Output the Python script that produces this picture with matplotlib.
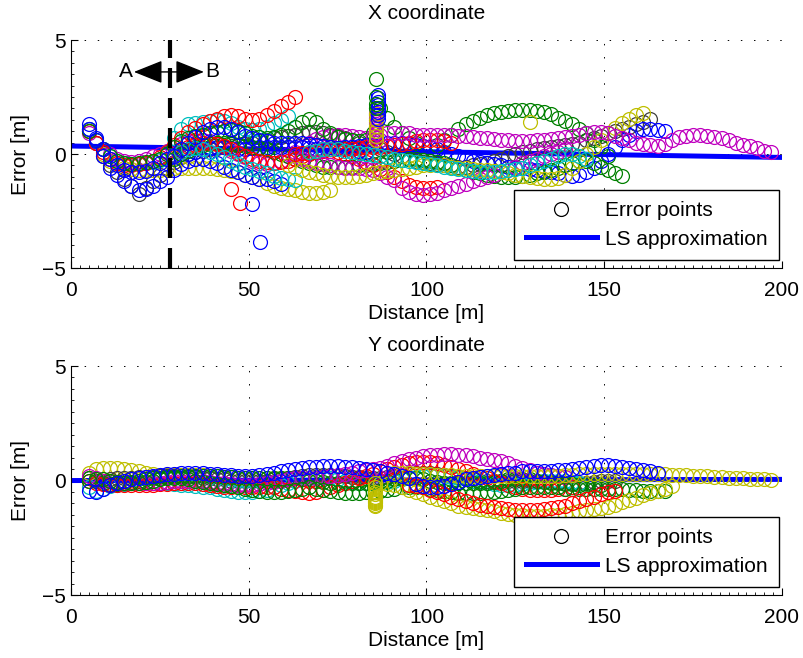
import numpy as np
import matplotlib
matplotlib.use("Agg")
import matplotlib.pyplot as plt
from matplotlib.lines import Line2D
from matplotlib.ticker import MultipleLocator

plt.rcParams['font.family'] = ['Liberation Sans', 'DejaVu Sans']
plt.rcParams['font.size'] = 15

# couleurs matlab (ancienne palette)
C = {'b': (0, 0, 1), 'g': (0, 0.5, 0), 'r': (1, 0, 0), 'c': (0, 0.75, 0.75),
     'm': (0.75, 0, 0.75), 'y': (0.75, 0.75, 0), 'k': (0.25, 0.25, 0.25)}

STEP = 2.0  # pas en distance entre deux points [m]

# ---------------- X coordinate : erreurs [m] ----------------
x_blue1_start = 5
x_blue1 = [1.3, 0.6, -0.1, -0.6, -0.9, -1.2, -1.4, -1.6, -1.55, -1.4, -1.2, -1.0, -0.7, -0.45,
           -0.3, -0.2, -0.2, -0.3, -0.4, -0.55, -0.7, -0.8, -0.9, -1.0, -1.1, -1.1, -1.2, -1.3]

x_blue2_start = 5
x_blue2 = [1.1, 0.7, 0.2, -0.2, -0.5, -0.7, -0.8, -0.8, -0.75, -0.6, -0.4, -0.2, -0.05, 0.0,
           0.0, 0.1, 0.2, 0.25, 0.3, 0.3, 0.25, 0.2, 0.2, 0.25, 0.3, 0.3, 0.3, 0.3, 0.3, 0.3,
           0.3, 0.25, 0.2, 0.2, 0.2, 0.25, 0.3, 0.3, 0.35, 0.4, 0.4, 0.45, 0.5, 0.5, 0.5, 0.45,
           0.4, 0.35, 0.3, 0.2, 0.1, 0.0, -0.1, -0.2, -0.3, -0.35, -0.4, -0.45, -0.5, -0.55,
           -0.6, -0.6, -0.65, -0.7, -0.75, -0.8, -0.85, -0.9, -0.95, -0.9, -0.8, -0.6, -0.3,
           0.0, 0.3, 0.6, 0.85, 1.0, 1.1, 1.1, 1.05, 1.0]

x_blue3_start = 29
x_blue3 = [-0.1, 0.2, 0.5, 0.75, 0.95, 1.1, 1.2, 1.2, 1.1, 0.95, 0.8, 0.7, 0.6, 0.55, 0.5,
           0.5, 0.5, 0.5, 0.5, 0.45, 0.4, 0.35, 0.3, 0.25, 0.2, 0.2, 0.15, 0.1]

x_green1_start = 5
x_green1 = [1.0, 0.6, 0.2, -0.1, -0.3, -0.4, -0.45, -0.4, -0.35, -0.3, -0.2, 0.0, 0.3, 0.55,
            0.7, 0.8, 0.85, 0.9, 0.95, 1.0, 1.05, 1.0, 0.9, 0.8, 0.75, 0.7, 0.75, 0.85, 1.0,
            1.2, 1.4, 1.55, 1.4, 1.1, 0.9, 0.75, 0.65, 0.6, 0.55, 0.6, 0.9]
x_green1b_start = 87
x_green1b = [2.0, 1.6, 1.2, 0.9, 0.7, 0.5, 0.35, 0.3, 0.4, 0.6, 0.85, 1.1, 1.3, 1.45, 1.6,
             1.7, 1.8, 1.85, 1.9, 1.95, 1.95, 1.95, 1.9, 1.85, 1.75, 1.6, 1.45, 1.3, 1.1, 0.9,
             0.6, 0.3, -0.1]

x_green2_start = 29
x_green2 = [-0.2, 0.0, 0.15, 0.3, 0.4, 0.45, 0.5, 0.5, 0.45, 0.4, 0.35, 0.3, 0.25, 0.2, 0.1,
            0.0, -0.1, -0.2, -0.3, -0.4, -0.5, -0.55, -0.55, -0.55, -0.55, -0.55, -0.5, -0.5,
            -0.45, -0.4, -0.35, -0.3, -0.25, -0.2, -0.2, -0.25, -0.3, -0.35, -0.4, -0.5, -0.6,
            -0.7, -0.8, -0.85, -0.9, -0.95, -1.0, -1.0, -1.0, -0.95, -0.9, -0.85, -0.8, -0.7,
            -0.6, -0.5, -0.4, -0.3, -0.3, -0.4, -0.55, -0.7, -0.85, -0.95]

x_red1_start = 5
x_red1 = [1.0, 0.5, 0.1, -0.2, -0.4, -0.5, -0.5, -0.45, -0.4, -0.3, -0.15, 0.1, 0.4, 0.7,
          0.95, 1.15, 1.3, 1.45, 1.55, 1.65, 1.7, 1.65, 1.55, 1.5, 1.55, 1.7, 1.9, 2.1, 2.3, 2.5]

x_red2_start = 29
x_red2 = [-0.1, 0.1, 0.3, 0.4, 0.5, 0.5, 0.45, 0.35, 0.2, 0.05, -0.1, -0.2, -0.3, -0.35, -0.4,
          -0.35, -0.3, -0.2, -0.1, 0.0, 0.1, 0.15, 0.15, 0.1, 0.0, -0.1, -0.2, -0.35, -0.5,
          -0.65, -0.8, -1.0, -1.2, -1.35, -1.45, -1.5, -1.5, -1.45]

x_red3_start = 63
x_red3 = [0.0, 0.05, 0.1, 0.15, 0.2, 0.2, 0.2, 0.2, 0.2, 0.25, 0.3, 0.3, 0.3, 0.35, 0.4, 0.45,
          0.5, 0.55, 0.6, 0.6, 0.6, 0.55, 0.5]

x_cyan1_start = 5
x_cyan1 = [1.1, 0.6, 0.2, -0.1, -0.3, -0.4, -0.45, -0.45, -0.4, -0.35, -0.25, 0.1, 0.7, 1.1,
           1.3, 1.35, 1.4, 1.45, 1.5, 1.45, 1.35, 1.2, 1.1, 1.05, 1.1, 1.2, 1.35, 1.5, 1.65]

x_cyan2_start = 29
x_cyan2 = [-0.1, 0.1, 0.2, 0.25, 0.2, 0.1, 0.0, -0.15, -0.3, -0.45, -0.55, -0.65, -0.75, -0.85,
           -0.95, -1.05, -1.1, -1.15]

x_cyan3_start = 67
x_cyan3 = [0.1, 0.15, 0.2, 0.2, 0.2, 0.15, 0.1, 0.05, 0.0, -0.05, -0.1, -0.15, -0.2, -0.25,
           -0.3, -0.35, -0.4, -0.45, -0.5, -0.55, -0.6, -0.65, -0.7, -0.75, -0.8, -0.8, -0.8,
           -0.75, -0.7, -0.65, -0.6, -0.5, -0.4, -0.3, -0.2, -0.1, 0.0, 0.0, -0.1, -0.2]

x_mag1_start = 5
x_mag1 = [0.9, 0.5, 0.2, 0.0, -0.2, -0.3, -0.35, -0.3, -0.2, -0.1, 0.0, 0.15, 0.3, 0.45, 0.55,
          0.6, 0.6, 0.55, 0.45, 0.3, 0.15, 0.0, -0.15, -0.3, -0.4, -0.45, -0.4, -0.3, -0.1,
          0.1, 0.3, 0.5, 0.65, 0.75, 0.8, 0.85, 0.85, 0.8, 0.75, 0.7, 0.65, 0.6]

x_mag2_start = 61
x_mag2 = [0.0, -0.1, -0.2, -0.3, -0.4, -0.45, -0.5, -0.55, -0.6, -0.6, -0.6, -0.65, -0.7,
          -0.85, -1.0, -1.15, -1.5, -1.65, -1.75, -1.8, -1.75, -1.7, -1.6, -1.5, -1.4, -1.3,
          -1.2, -1.1, -1.0, -0.9, -0.8, -0.7, -0.55, -0.4, -0.3, -0.2, -0.1, 0.0, 0.1, 0.2]

x_mag3_start = 85
x_mag3 = [0.8, 0.85, 0.9, 0.9, 0.9, 0.9, 0.85, 0.85, 0.85, 0.85, 0.85, 0.85, 0.8, 0.8, 0.75,
          0.7, 0.7, 0.65, 0.6, 0.6, 0.55, 0.55, 0.55, 0.6, 0.6, 0.65, 0.7, 0.75, 0.8, 0.85,
          0.9, 0.95, 0.95, 0.9, 0.8, 0.7, 0.6, 0.5, 0.45, 0.4, 0.35, 0.45, 0.6, 0.75, 0.8,
          0.85, 0.85, 0.8, 0.75, 0.7, 0.6, 0.5, 0.4, 0.35, 0.25, 0.15, 0.1]

x_yel1_start = 5
x_yel1 = [1.0, 0.5, 0.0, -0.3, -0.5, -0.6, -0.65, -0.7, -0.7, -0.7, -0.7, -0.65, -0.6, -0.6,
          -0.6, -0.6, -0.6, -0.6, -0.65, -0.7, -0.75, -0.8, -0.9, -1.0, -1.1, -1.25, -1.4,
          -1.5, -1.55, -1.6, -1.65, -1.7, -1.7, -1.65, -1.6]

x_yel2_start = 61
x_yel2 = [-0.5, -0.6, -0.7, -0.8, -0.85, -0.9, -0.95, -1.0, -1.0, -1.0, -0.95, -0.9, -0.85,
          -0.8, -0.75, -0.7, -0.65, -0.6, -0.55, -0.5, -0.5, -0.5, -0.5, -0.55, -0.6, -0.6,
          -0.65, -0.7, -0.7, -0.75, -0.8, -0.85, -0.9, -0.95, -1.0, -1.05, -1.1, -1.1, -1.05,
          -0.9, -0.6, -0.3, 0.0, 0.3, 0.6, 0.9, 1.15, 1.35, 1.55, 1.7, 1.8]

x_gray_start = 5
x_gray = [1.1, 0.5, -0.1, -0.5, -0.8, -1.1, -1.4, -1.75, -1.5, -1.2, -0.9, -0.6, -0.35, -0.15,
          0.0, 0.1, 0.15, 0.2, 0.25, 0.3, 0.35, 0.4, 0.45, 0.5, 0.55, 0.6, 0.7, 0.75, 0.8,
          0.85, 0.9, 0.95, 0.95, 0.9, 0.85, 0.8, 0.7, 0.6, 0.5, 0.4, 0.3, 0.2, 0.1, 0.0, -0.1,
          -0.2, -0.3, -0.35, -0.4, -0.45, -0.5, -0.55, -0.55, -0.55, -0.5, -0.45, -0.4, -0.3,
          -0.2, -0.1, 0.0, 0.1, 0.15, 0.2, 0.25, 0.3, 0.35, 0.4, 0.45, 0.5, 0.6, 0.7, 0.8,
          0.9, 1.0, 1.1, 1.2, 1.3, 1.4, 1.55]

# arret du vehicule vers 85.8 m : points empiles
x_stop_dist = 85.8
x_stop_green = [3.3, 2.5, 2.2, 2.0]
x_stop_blue = [2.6, 2.45, 2.3, 2.15, 2.0, 1.85, 1.7, 1.55]
x_stop_yel = [2.0, 1.75, 1.5, 1.25, 1.0, 0.8, 0.6]
x_stop_mag = [1.8, 1.7, 1.6, 1.5, 1.4, 1.3, 1.2, 1.1, 1.0, 0.9, 0.8]

# points isoles
x_out_red_d = [45.0, 47.5]
x_out_red = [-1.55, -2.15]
x_out_blue_d = [51.0, 53.3]
x_out_blue = [-2.2, -3.85]
x_out_yel_d = [129.0]
x_out_yel = [1.4]

x_ls_ends = [0.35, -0.15]  # droite LS a 0 et 200 m

# ---------------- Y coordinate : erreurs [m] ----------------
y_yel1_start = 5
y_yel1 = [0.35, 0.5, 0.55, 0.55, 0.55, 0.5, 0.45, 0.4, 0.35, 0.3, 0.25, 0.25, 0.25, 0.25, 0.25,
          0.25, 0.25, 0.2, 0.2, 0.15, 0.15, 0.1, 0.1, 0.1, 0.1, 0.1, 0.1, 0.1, 0.1, 0.1, 0.1,
          0.1, 0.15, 0.2, 0.2, 0.2, 0.2, 0.15, 0.1, 0.05, 0.0]

y_yel2_start = 87
y_yel2 = [-0.1, -0.15, -0.2, -0.3, -0.4, -0.5, -0.6, -0.7, -0.8, -0.9, -1.0, -1.1, -1.15,
          -1.2, -1.25, -1.3, -1.35, -1.4, -1.45, -1.5, -1.5, -1.55, -1.55, -1.55, -1.5, -1.5,
          -1.45, -1.4, -1.35, -1.3, -1.25, -1.2, -1.15, -1.05, -0.95, -0.85, -0.75, -0.65,
          -0.55, -0.45, -0.35, -0.25]

y_yel3_start = 91
y_yel3 = [0.35, 0.35, 0.35, 0.3, 0.3, 0.3, 0.25, 0.25, 0.25, 0.2, 0.2, 0.2, 0.2, 0.2, 0.2, 0.2,
          0.2, 0.2, 0.2, 0.2, 0.2, 0.2, 0.2, 0.2, 0.25, 0.25, 0.28, 0.3, 0.3, 0.3, 0.3, 0.3,
          0.3, 0.3, 0.3, 0.3, 0.3, 0.3, 0.28, 0.25, 0.25, 0.22, 0.2, 0.2, 0.18, 0.15, 0.15,
          0.12, 0.1, 0.1, 0.08, 0.05, 0.05, 0.03]

y_red1_start = 95
y_red1 = [-0.2, -0.25, -0.3, -0.4, -0.5, -0.6, -0.7, -0.8, -0.9, -1.0, -1.05, -1.1, -1.15,
          -1.2, -1.25, -1.3, -1.3, -1.3, -1.3, -1.25, -1.2, -1.15, -1.1, -1.0, -0.9, -0.8,
          -0.7, -0.6, -0.5, -0.45]

y_red2_start = 5
y_red2 = [0.0, -0.1, -0.15, -0.2, -0.2, -0.2, -0.2, -0.2, -0.2, -0.2, -0.15, -0.15, -0.1, -0.1,
          -0.1, -0.1, -0.15, -0.2, -0.25, -0.3, -0.3, -0.3, -0.3, -0.3, -0.3, -0.3, -0.3,
          -0.35, -0.4, -0.45, -0.5, -0.55, -0.5, -0.4, -0.3, -0.2, -0.1, 0.0, 0.1, 0.2, 0.3,
          0.4, 0.5, 0.6, 0.7, 0.75, 0.8, 0.8, 0.8, 0.75, 0.7, 0.6, 0.5, 0.4, 0.3, 0.2, 0.1,
          0.0, -0.1, -0.2, -0.3, -0.35, -0.4, -0.4, -0.4, -0.4, -0.35, -0.35, -0.3]

y_mag_start = 5
y_mag = [0.2, 0.1, 0.0, 0.0, -0.05, -0.1, -0.1, -0.1, -0.1, -0.1, -0.1, -0.05, 0.0, 0.0, 0.0,
         0.0, 0.0, -0.05, -0.1, -0.1, -0.15, -0.2, -0.2, -0.2, -0.15, -0.1, -0.05, 0.0, 0.05,
         0.1, 0.1, 0.1, 0.1, 0.15, 0.2, 0.25, 0.3, 0.35, 0.4, 0.45, 0.5, 0.55, 0.65, 0.75,
         0.85, 0.95, 1.0, 1.05, 1.1, 1.1, 1.15, 1.15, 1.1, 1.1, 1.05, 1.0, 0.95, 0.9, 0.85,
         0.75, 0.65, 0.55, 0.45, 0.35, 0.3, 0.25, 0.2, 0.15]

y_blue_start = 5
y_blue = [-0.45, -0.5, -0.35, -0.2, -0.1, 0.0, 0.05, 0.1, 0.15, 0.2, 0.25, 0.3, 0.3, 0.35, 0.35,
          0.35, 0.35, 0.3, 0.3, 0.25, 0.25, 0.2, 0.2, 0.2, 0.25, 0.3, 0.35, 0.4, 0.45, 0.5,
          0.55, 0.6, 0.6, 0.65, 0.65, 0.65, 0.6, 0.6, 0.55, 0.5, 0.45, 0.4, 0.35, 0.3, 0.2,
          0.1, -0.15, -0.25, -0.3, -0.3, -0.25, -0.15, -0.05, 0.05, 0.1, 0.15, 0.2, 0.25, 0.3,
          0.35, 0.35, 0.4, 0.4, 0.4, 0.4, 0.4, 0.45, 0.45, 0.5, 0.55, 0.6, 0.65, 0.7, 0.7,
          0.65, 0.6, 0.55, 0.5, 0.45, 0.4, 0.35]

y_green1_start = 5
y_green1 = [0.0, 0.05, 0.05, 0.0, -0.05, -0.1, -0.1, -0.1, -0.05, 0.0, 0.05, 0.1, 0.1, 0.1,
            0.05, 0.0, -0.05, -0.1, -0.15, -0.2, -0.25, -0.3, -0.35, -0.4, -0.45, -0.5, -0.5,
            -0.5, -0.45, -0.4, -0.35, -0.3, -0.35, -0.4, -0.45, -0.5, -0.55, -0.55, -0.55,
            -0.5, -0.5, -0.45, -0.4, -0.35, -0.3, -0.3, -0.3, -0.3, -0.35, -0.4, -0.45, -0.5,
            -0.55, -0.55, -0.55, -0.55, -0.5, -0.5, -0.45, -0.4, -0.35, -0.3, -0.3, -0.3, -0.3,
            -0.3, -0.3, -0.35, -0.35, -0.35, -0.35, -0.35, -0.35, -0.35, -0.35, -0.35, -0.4,
            -0.4, -0.45, -0.45, -0.45, -0.45]

y_green2_start = 5
y_green2 = [0.1, 0.0, -0.1, -0.15, -0.15, -0.1, -0.05, 0.0, 0.05, 0.1, 0.1, 0.15, 0.15, 0.2,
            0.2, 0.2, 0.2, 0.2, 0.2, 0.15, 0.15, 0.1, 0.1, 0.1, 0.1, 0.1, 0.1, 0.1, 0.1, 0.1,
            0.05, 0.0, 0.0, -0.05, -0.1, -0.1, -0.1, -0.1, -0.1, -0.1, -0.1, -0.05, 0.0, 0.05,
            0.1, 0.1, 0.1, 0.05, 0.0, -0.05, -0.1, -0.1, -0.1, -0.1, -0.1, -0.1, -0.1, -0.05,
            0.0, 0.05, 0.05, 0.05, 0.05, 0.0, -0.05, -0.1, -0.1, -0.15, -0.15, -0.2, -0.2,
            -0.2, -0.2]

y_cyan_start = 5
y_cyan = [-0.3, -0.45, -0.35, -0.25, -0.2, -0.15, -0.1, -0.1, -0.1, -0.1, -0.1, -0.1, -0.15,
          -0.2, -0.2, -0.25, -0.3, -0.3, -0.35, -0.4, -0.45, -0.5, -0.5, -0.5, -0.45, -0.4,
          -0.3, -0.2, -0.1, 0.0, 0.05, 0.1, 0.1, 0.1, 0.1, 0.05, 0.0, -0.05, -0.1, -0.1, -0.1,
          -0.1, -0.05, 0.0, 0.05, 0.1, 0.15, 0.2, 0.25, 0.25, 0.2, 0.15, 0.1, 0.05, 0.0, -0.05,
          -0.1, -0.15, -0.2, -0.2, -0.2, -0.15, -0.1, -0.05, 0.0, 0.0, 0.0, 0.0, -0.05, -0.1]

y_gray_start = 5
y_gray = [0.1, 0.0, 0.0, 0.05, 0.1, 0.1, 0.1, 0.15, 0.15, 0.15, 0.2, 0.2, 0.2, 0.2, 0.15, 0.15,
          0.1, 0.1, 0.05, 0.05, 0.0, 0.0, 0.0, 0.0, 0.0, 0.0, 0.05, 0.05, 0.1, 0.15, 0.2, 0.25,
          0.25, 0.25, 0.25, 0.2, 0.2, 0.15, 0.15, 0.1, 0.1, 0.1, 0.15, 0.2, 0.25, 0.3, 0.35,
          0.35, 0.35, 0.3, 0.25, 0.2, 0.15, 0.1, 0.05, 0.0, 0.0, 0.0, 0.0, 0.0, 0.0, 0.0, 0.0,
          0.0, 0.0, -0.05, -0.05, -0.1, -0.1, -0.1, -0.1, -0.05, 0.0, 0.0, 0.0]

y_stop_dist = 85.6
y_stop_yel = [-0.1, -0.3, -0.5, -0.6, -0.7, -0.75, -0.8, -0.85, -0.9, -0.95, -1.0, -1.05, -1.1]

y_ls_ends = [0.0, 0.05]

top_series = [
    ('k', x_gray_start, x_gray), ('y', x_yel1_start, x_yel1), ('m', x_mag1_start, x_mag1),
    ('c', x_cyan1_start, x_cyan1), ('r', x_red1_start, x_red1), ('g', x_green1_start, x_green1),
    ('g', x_green1b_start, x_green1b), ('b', x_blue1_start, x_blue1),
    ('b', x_blue2_start, x_blue2), ('g', x_green2_start, x_green2), ('r', x_red2_start, x_red2),
    ('c', x_cyan2_start, x_cyan2), ('m', x_mag2_start, x_mag2), ('y', x_yel2_start, x_yel2),
    ('b', x_blue3_start, x_blue3), ('r', x_red3_start, x_red3),
    ('c', x_cyan3_start, x_cyan3), ('m', x_mag3_start, x_mag3),
]

bottom_series = [
    ('y', y_yel1_start, y_yel1), ('k', y_gray_start, y_gray), ('c', y_cyan_start, y_cyan),
    ('g', y_green2_start, y_green2), ('r', y_red2_start, y_red2), ('m', y_mag_start, y_mag),
    ('g', y_green1_start, y_green1), ('y', y_yel3_start, y_yel3), ('y', y_yel2_start, y_yel2),
    ('r', y_red1_start, y_red1), ('b', y_blue_start, y_blue),
]

MS = 10
MEW = 0.9


def circles(ax, dist, err, col):
    ax.plot(dist, err, 'o', mfc='none', mec=C[col], ms=MS, mew=MEW, zorder=3)


def draw_panel(ax, series, ls_ends, title, title_pad):
    ax.plot([0, 200], ls_ends, color='b', lw=3.6, zorder=2)
    for col, start, err in series:
        dist = start + STEP * np.arange(len(err))
        circles(ax, dist, err, col)

    ax.set_xlim(0, 200)
    ax.set_ylim(-5, 5)
    ax.set_xticks([0, 50, 100, 150, 200])
    ax.set_yticks([-5, 0, 5])
    ax.xaxis.set_minor_locator(MultipleLocator(2.5))
    ax.yaxis.set_minor_locator(MultipleLocator(0.5))
    ax.tick_params(which='both', direction='in', top=False, right=False)
    ax.tick_params(which='major', length=5, width=0.8)
    ax.tick_params(which='minor', length=2.5, width=0.6)
    ax.tick_params(axis='x', pad=9)
    ax.tick_params(axis='y', pad=4)
    ax.spines['top'].set_visible(False)
    ax.spines['right'].set_visible(False)
    ax.grid(True, color='k', lw=0.7, linestyle=(0, (1.5, 12)))
    ax.set_axisbelow(True)
    ax.set_title(title, pad=title_pad, fontsize=15)
    ax.set_xlabel('Distance [m]', labelpad=3)
    ax.set_ylabel('Error [m]', labelpad=8)

    handles = [Line2D([], [], ls='none', marker='o', mfc='none', mec='k', ms=MS, mew=MEW),
               Line2D([], [], color='b', lw=3.6)]
    ax.legend(handles, ['Error points', 'LS approximation'], loc='lower right',
              bbox_to_anchor=(0.996, 0.035), borderaxespad=0, fancybox=False,
              edgecolor='k', framealpha=1, handlelength=3.4, handletextpad=0.4,
              borderpad=0.55, labelspacing=0.45, fontsize=15)


fig = plt.figure(figsize=(8.04, 6.58), dpi=100)
ax1 = fig.add_axes([0.0883, 0.5927, 0.8843, 0.3465])
ax2 = fig.add_axes([0.0883, 0.0957, 0.8843, 0.348])

draw_panel(ax1, top_series, x_ls_ends, 'X coordinate', 15)

# colonnes a l'arret
circles(ax1, [x_stop_dist] * len(x_stop_mag), x_stop_mag, 'm')
circles(ax1, [x_stop_dist] * len(x_stop_yel), x_stop_yel, 'y')
circles(ax1, [x_stop_dist + 0.5] * len(x_stop_blue), x_stop_blue, 'b')
circles(ax1, [x_stop_dist] * len(x_stop_green), x_stop_green, 'g')
circles(ax1, x_out_red_d, x_out_red, 'r')
circles(ax1, x_out_blue_d, x_out_blue, 'b')
circles(ax1, x_out_yel_d, x_out_yel, 'y')

# frontiere A / B
ax1.axvline(27.8, color='k', lw=3, dashes=(4.8, 2.4), zorder=5)
arrow = dict(arrowstyle='-|>,head_length=1.0,head_width=0.4', color='k', lw=1,
             shrinkA=0, shrinkB=0, mutation_scale=18)
ax1.annotate('', xy=(17.7, 3.6), xytext=(27.8, 3.6), arrowprops=arrow, zorder=6)
ax1.annotate('', xy=(37.4, 3.6), xytext=(27.8, 3.6), arrowprops=arrow, zorder=6)
ax1.text(17.5, 3.6, 'A', ha='right', va='center', fontsize=15)
ax1.text(37.7, 3.6, 'B', ha='left', va='center', fontsize=15)

draw_panel(ax2, bottom_series, y_ls_ends, 'Y coordinate', 11)
circles(ax2, [y_stop_dist] * len(y_stop_yel), y_stop_yel, 'y')

fig.savefig('out.png', dpi=100)
